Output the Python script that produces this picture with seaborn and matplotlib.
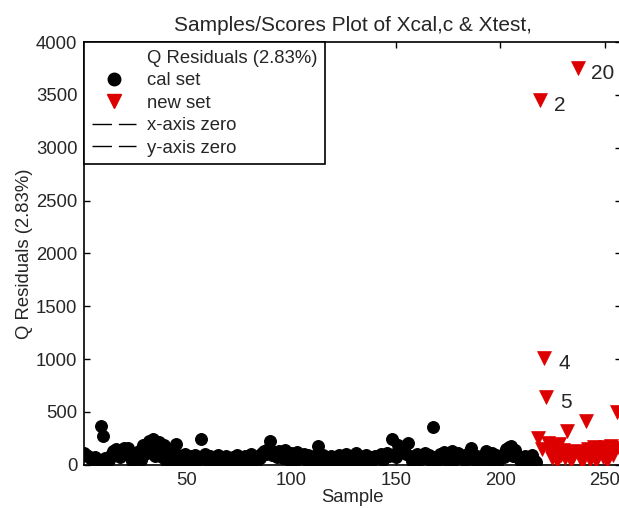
import matplotlib
matplotlib.use("Agg")
import matplotlib.pyplot as plt
from matplotlib.lines import Line2D
import numpy as np
import pandas as pd
import seaborn as sns

# ---------------- data ----------------
cal_values = [
    110, 95, 80, 60, 45, 70, 55, 40, 370, 270,
    60, 30, 50, 90, 130, 150, 110, 70, 140, 155,
    120, 160, 80, 40, 110, 70, 130, 50, 190, 100,
    140, 230, 200, 240, 80, 170, 215, 70, 190, 40,
    60, 110, 80, 20, 200, 90, 40, 70, 100, 60,
    30, 80, 50, 90, 40, 70, 240, 60, 100, 40,
    80, 30, 70, 50, 90, 20, 60, 40, 80, 50,
    30, 70, 40, 90, 50, 30, 60, 80, 40, 70,
    100, 50, 30, 80, 60, 110, 130, 100, 150, 230,
    90, 120, 70, 130, 100, 60, 140, 80, 50, 110,
    70, 40, 120, 80, 60, 100, 50, 90, 70, 40,
    80, 60, 175, 30, 90, 50, 70, 20, 80, 60,
    30, 70, 90, 50, 40, 100, 60, 80, 40, 70,
    110, 50, 80, 40, 60, 90, 30, 70, 50, 80,
    60, 70, 100, 50, 90, 110, 80, 240, 100, 70,
    190, 120, 170, 150, 100, 205, 80, 40, 70, 100,
    50, 80, 60, 110, 60, 90, 40, 360, 70, 50,
    100, 60, 120, 80, 40, 90, 130, 50, 70, 110,
    80, 60, 40, 100, 70, 160, 90, 50, 80, 60,
    40, 70, 130, 80, 50, 110, 60, 90, 40, 70,
    90, 70, 150, 170, 180, 80, 140, 70, 60, 30,
    50, 80, 40, 60, 90, 50, 30,
]
new_values = [
    250, 3450, 150, 1010, 640, 210, 120, 60, 180, 40,
    200, 90, 140, 60, 320, 110, 40, 80, 130, 3760,
    70, 30, 120, 410, 150, 50, 100, 170, 40, 110,
    140, 70, 170, 40, 130, 180, 90, 150, 500, 160,
]
labeled_new = [2, 20, 4, 5]
x_ticks = [50, 100, 150, 200, 250]
y_ticks = [0, 500, 1000, 1500, 2000, 2500, 3000, 3500, 4000]

title = "Samples/Scores Plot of Xcal,c & Xtest,"
x_label = "Sample"
y_label = "Q Residuals (2.83%)"

n_cal = len(cal_values)
cal_df = pd.DataFrame({"Sample": np.arange(1, n_cal + 1), "Q": cal_values})
new_df = pd.DataFrame({"Sample": np.arange(n_cal + 1, n_cal + 1 + len(new_values)),
                       "Q": new_values})

# ---------------- style ----------------
sns.set_style("ticks")
plt.rcParams["font.family"] = ["Liberation Sans", "DejaVu Sans"]
plt.rcParams["xtick.direction"] = "in"
plt.rcParams["ytick.direction"] = "in"

fig = plt.figure(figsize=(6.19, 5.08), dpi=100)
ax = fig.add_axes([0.136, 0.085, 0.868, 0.832])

dash = (0, (14, 5))
ax.axhline(0, color="black", lw=1, ls=dash, zorder=1)
ax.axvline(0, color="black", lw=1, ls=dash, zorder=1)

sns.scatterplot(data=cal_df, x="Sample", y="Q", ax=ax, marker="o", s=72,
                color="black", edgecolor="black", linewidth=0.8, zorder=3)
sns.scatterplot(data=new_df, x="Sample", y="Q", ax=ax, marker="v", s=100,
                color="#dd0000", edgecolor="#dd0000", linewidth=0.5, zorder=4)

for k in labeled_new:
    row = new_df.iloc[k - 1]
    ax.annotate(str(k), (row["Sample"], row["Q"]), xytext=(10, -4),
                textcoords="offset points", fontsize=15, va="center", ha="left")

ax.set_xlim(1, 258)
ax.set_ylim(0, 4000)
ax.set_xticks(x_ticks)
ax.set_yticks(y_ticks)
ax.tick_params(axis="both", which="both", top=True, right=True, labelsize=13.3,
               length=4, width=1, color="black", pad=5)
for sp in ax.spines.values():
    sp.set_linewidth(1.2)
    sp.set_color("black")

ax.set_title(title, fontsize=15, pad=8)
ax.set_xlabel(x_label, fontsize=13.3, labelpad=0)
ax.set_ylabel(y_label, fontsize=13.3, labelpad=2)

handles = [
    Line2D([], [], linestyle="none", marker=None),
    Line2D([], [], linestyle="none", marker="o", color="black", markersize=9),
    Line2D([], [], linestyle="none", marker="v", color="#dd0000", markersize=10),
    Line2D([], [], color="black", lw=1, ls=dash),
    Line2D([], [], color="black", lw=1, ls=dash),
]
labels = ["Q Residuals (2.83%)", "cal set", "new set", "x-axis zero", "y-axis zero"]
leg = ax.legend(handles, labels, loc="upper left", borderaxespad=0, fontsize=13.3,
                frameon=True, fancybox=False, edgecolor="black", framealpha=1,
                handlelength=2.4, handletextpad=0.6, labelspacing=0.3,
                borderpad=0.4)
leg.get_frame().set_linewidth(1.2)

fig.savefig("out.png", dpi=100)
